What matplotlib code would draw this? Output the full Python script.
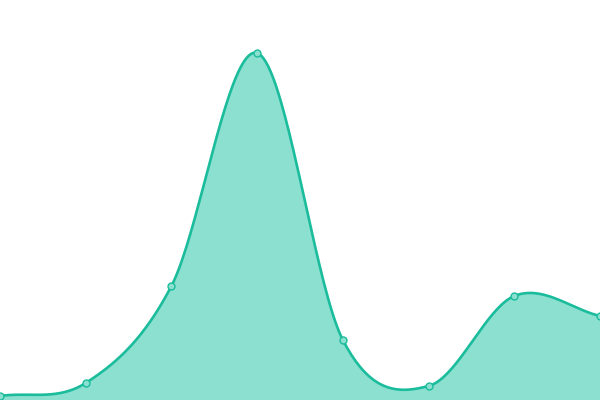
import numpy as np
import matplotlib.pyplot as plt

# values (0 = bottom edge, 400 = top edge)
x_vals = [0, 1, 2, 3, 4, 5, 6, 7]
y_vals = [4, 17, 114, 347, 60, 14, 104, 84]

line_color = '#1abc9c'
fill_color = '#8ce0d0'


def smooth_curve(xs, ys, n=40):
    # cardinal (Catmull-Rom) spline through the points, drawing only
    xs = np.asarray(xs, float)
    ys = np.asarray(ys, float)
    m = np.zeros_like(ys)
    m[1:-1] = (ys[2:] - ys[:-2]) / 2
    m[0] = ys[1] - ys[0]
    m[-1] = ys[-1] - ys[-2]
    out_x, out_y = [], []
    for i in range(len(xs) - 1):
        t = np.linspace(0, 1, n, endpoint=False)
        h00 = 2 * t**3 - 3 * t**2 + 1
        h10 = t**3 - 2 * t**2 + t
        h01 = -2 * t**3 + 3 * t**2
        h11 = t**3 - t**2
        out_x.append(xs[i] + t * (xs[i + 1] - xs[i]))
        out_y.append(h00 * ys[i] + h10 * m[i] + h01 * ys[i + 1] + h11 * m[i + 1])
    out_x.append([xs[-1]])
    out_y.append([ys[-1]])
    return np.concatenate(out_x), np.concatenate(out_y)


sx, sy = smooth_curve(x_vals, y_vals)

fig = plt.figure(figsize=(6, 4), dpi=100)
ax = fig.add_axes([0, 0, 1, 1])
ax.fill_between(sx, sy, 0, color=fill_color, lw=0)
ax.plot(sx, sy, color=line_color, lw=1.9, solid_capstyle='round')
ax.plot(x_vals, y_vals, 'o', ms=5, mfc=fill_color, mec=line_color, mew=1,
        clip_on=False)
ax.set_xlim(0, 7)
ax.set_ylim(0, 400)
ax.axis('off')
fig.savefig('out.png', dpi=100)
